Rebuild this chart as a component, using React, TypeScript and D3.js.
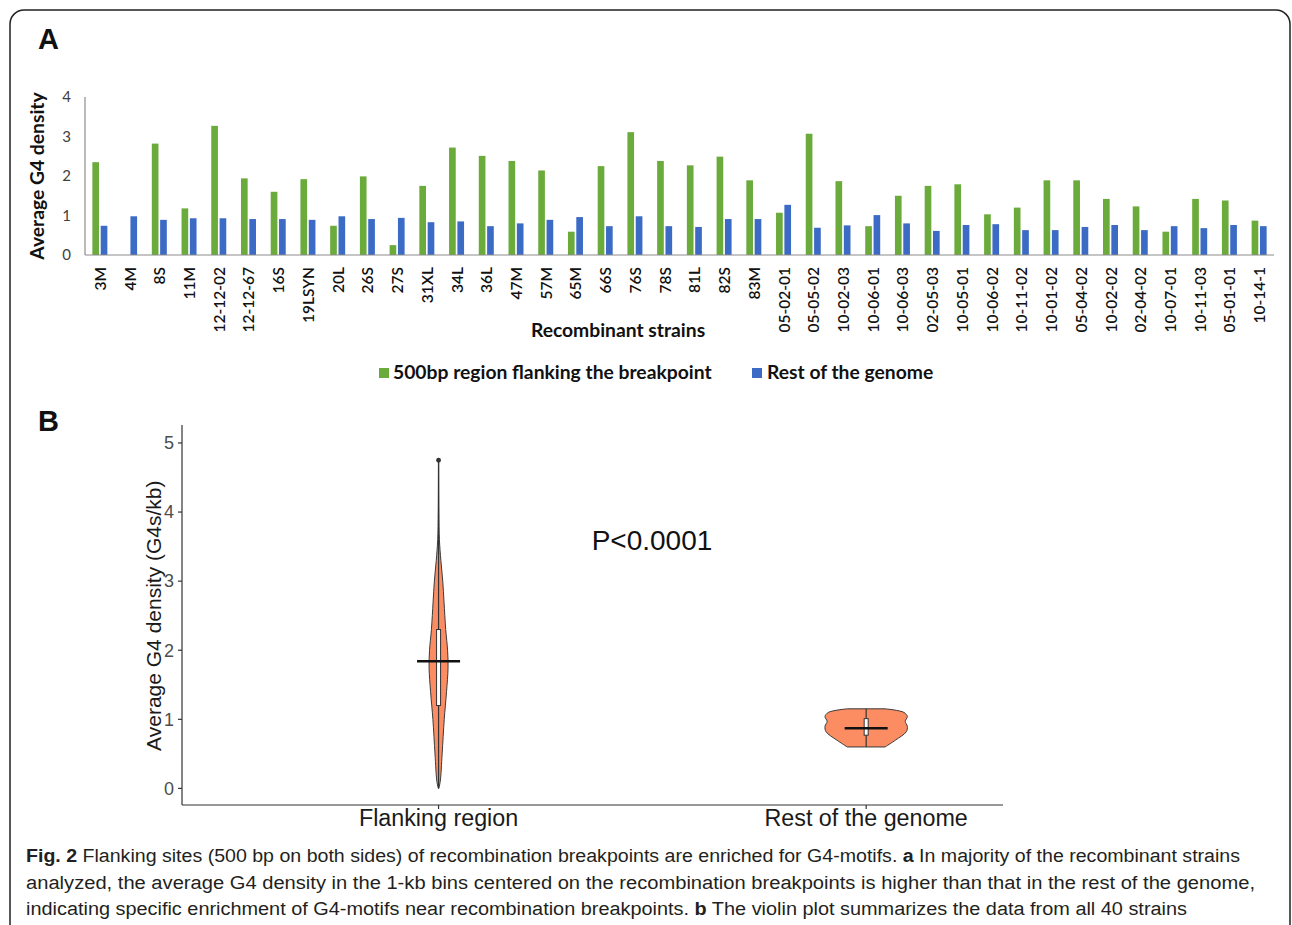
import React from 'react';
import * as d3 from 'd3';

// ---- Panel A data: average G4 density per recombinant strain ----
const strains = [
    '3M', '4M', '8S', '11M', '12-12-02', '12-12-67', '16S', '19LSYN', '20L', '26S',
    '27S', '31XL', '34L', '36L', '47M', '57M', '65M', '66S', '76S', '78S',
    '81L', '82S', '83M', '05-02-01', '05-05-02', '10-02-03', '10-06-01', '10-06-03', '02-05-03', '10-05-01',
    '10-06-02', '10-11-02', '10-01-02', '05-04-02', '10-02-02', '02-04-02', '10-07-01', '10-11-03', '05-01-01', '10-14-1',
];
const flankingDensity = [
    2.35, 0, 2.82, 1.18, 3.27, 1.94, 1.6, 1.92, 0.74, 1.99,
    0.25, 1.75, 2.72, 2.51, 2.38, 2.14, 0.59, 2.25, 3.11, 2.38,
    2.27, 2.49, 1.89, 1.07, 3.07, 1.87, 0.73, 1.5, 1.75, 1.79,
    1.03, 1.2, 1.89, 1.89, 1.42, 1.23, 0.59, 1.42, 1.38, 0.87,
];
const genomeDensity = [
    0.74, 0.98, 0.89, 0.93, 0.93, 0.91, 0.91, 0.89, 0.98, 0.91,
    0.94, 0.83, 0.85, 0.73, 0.8, 0.89, 0.96, 0.73, 0.98, 0.73,
    0.71, 0.91, 0.91, 1.27, 0.69, 0.75, 1.01, 0.8, 0.61, 0.76,
    0.78, 0.63, 0.63, 0.71, 0.76, 0.63, 0.73, 0.68, 0.76, 0.73,
];
const seriesKeys = ['flank', 'rest'];
const seriesNames = ['500bp region flanking the breakpoint', 'Rest of the genome'];
const yTicksA = [0, 1, 2, 3, 4];

// ---- Panel B data: violin outlines (value, relative width) and summary stats ----
const groups = ['Flanking region', 'Rest of the genome'];
const flankProfileValue = [0, 0.1, 0.5, 1.0, 1.4, 1.75, 2.0, 2.3, 2.7, 3.0, 3.3, 3.6, 4.0, 4.75];
const flankProfileWidth = [0.005, 0.04, 0.085, 0.135, 0.19, 0.226, 0.215, 0.17, 0.13, 0.1, 0.055, 0.02, 0.008, 0.003];
const restProfileValue = [0.6, 0.7, 0.82, 0.9, 0.97, 1.04, 1.1, 1.152];
const restProfileWidth = [0.45, 0.7, 0.955, 0.98, 0.93, 0.98, 0.9, 0.45];
const boxLow = [1.2, 0.77];
const boxHigh = [2.3, 1.01];
const whiskerLow = [0, 0.6];
const whiskerHigh = [4.75, 1.152];
const centerLine = [1.84, 0.87];
const outliers = [4.75];
const yTicksB = [0, 1, 2, 3, 4, 5];

const W = 1292;
const H = 925;
const GREEN = '#6aab3b';
const BLUE = '#3c6bc6';
const VIOLIN = '#fc8d62';

export default function App() {
    // Panel A scales
    const xA = d3.scaleBand<string>().domain(strains).range([85, 1274]);
    const xSub = d3.scaleBand<string>()
        .domain(seriesKeys)
        .range([xA.bandwidth() / 2 - 7.5, xA.bandwidth() / 2 + 7.5])
        .paddingInner(0.2);
    const yA = d3.scaleLinear().domain([0, 4]).range([255, 97]);

    // Panel B scales
    const xB = d3.scaleLinear().domain([0.4, 2.32]).range([182, 1003]);
    const yB = d3.scaleLinear().domain([-0.24, 5.26]).range([805, 425]);
    const wB = d3.scaleLinear().domain([0, 1]).range([0, 42]);

    const violinPath = (vals: number[], widths: number[], cx: number) => {
        const pts = vals.map((v, i) => [v, widths[i]] as [number, number]);
        return d3.area<[number, number]>()
            .y(d => yB(d[0]))
            .x0(d => cx - wB(d[1]))
            .x1(d => cx + wB(d[1]))
            .curve(d3.curveCatmullRom.alpha(0.5))(pts) || '';
    };
    const profiles = [
        [flankProfileValue, flankProfileWidth],
        [restProfileValue, restProfileWidth],
    ];

    const fontA = 'Lato, "Open Sans", sans-serif';
    const fontB = '"Liberation Sans", Arial, sans-serif';
    const capFont = '"Liberation Sans Narrow", "Liberation Sans", sans-serif';

    return (
        <div style={{ position: 'absolute', left: 0, top: 0 }}>
            <svg width={W} height={H} viewBox={`0 0 ${W} ${H}`} style={{ display: 'block', background: '#fff' }}>
                {/* frame */}
                <rect x={10} y={10} width={1280} height={960} rx={14} ry={14} fill="none" stroke="#222" strokeWidth={1.5} />

                {/* ---------- Panel A ---------- */}
                <text x={38} y={49} fontFamily={fontB} fontWeight="bold" fontSize={29} fill="#111">A</text>

                <g fontFamily={fontA}>
                    {yTicksA.map(t => (
                        <text key={t} x={71} y={yA(t)} dy="0.35em" textAnchor="end" fontSize={15} fill="#404040">{t}</text>
                    ))}
                    <text transform={`translate(44,${yA(2)}) rotate(-90)`} textAnchor="middle"
                        fontSize={19.3} fontWeight="bold" fill="#111">Average G4 density</text>

                    {strains.map((s, i) => (
                        <g key={s} transform={`translate(${xA(s)},0)`}>
                            {flankingDensity[i] > 0 && (
                                <rect x={xSub('flank')} y={yA(flankingDensity[i])} width={xSub.bandwidth()}
                                    height={yA(0) - yA(flankingDensity[i])} fill={GREEN} />
                            )}
                            <rect x={xSub('rest')} y={yA(genomeDensity[i])} width={xSub.bandwidth()}
                                height={yA(0) - yA(genomeDensity[i])} fill={BLUE} />
                        </g>
                    ))}

                    <line x1={85} x2={85} y1={yA(4)} y2={yA(0)} stroke="#8c8c8c" strokeWidth={1.2} />
                    <line x1={85} x2={1274} y1={yA(0)} y2={yA(0)} stroke="#8c8c8c" strokeWidth={1.2} />

                    {strains.map(s => (
                        <text key={s} transform={`translate(${(xA(s) || 0) + xA.bandwidth() / 2},267) rotate(-90)`}
                            textAnchor="end" dominantBaseline="central" fontSize={15.5} fontWeight={600} fill="#111">{s}</text>
                    ))}

                    <text x={618} y={337} textAnchor="middle" fontSize={19.3} fontWeight="bold" fill="#111">Recombinant strains</text>

                    {/* legend */}
                    <rect x={379} y={368} width={10} height={10} fill={GREEN} />
                    <text x={393} y={379} fontSize={19.3} fontWeight="bold" fill="#111">{seriesNames[0]}</text>
                    <rect x={752} y={368} width={10} height={10} fill={BLUE} />
                    <text x={767} y={379} fontSize={19.3} fontWeight="bold" fill="#111">{seriesNames[1]}</text>
                </g>

                {/* ---------- Panel B ---------- */}
                <text x={38} y={431} fontFamily={fontB} fontWeight="bold" fontSize={29} fill="#111">B</text>

                <g fontFamily={fontB}>
                    {groups.map((g, i) => {
                        const cx = xB(i + 1);
                        return (
                            <g key={g}>
                                <path d={violinPath(profiles[i][0], profiles[i][1], cx)} fill={VIOLIN} stroke="#3a3a3a" strokeWidth={1} />
                                <line x1={cx} x2={cx} y1={yB(whiskerLow[i])} y2={yB(whiskerHigh[i])} stroke="#333" strokeWidth={1.2} />
                                <rect x={cx - 2} y={yB(boxHigh[i])} width={4} height={yB(boxLow[i]) - yB(boxHigh[i])}
                                    fill="#fff" stroke="#333" strokeWidth={1} />
                                <line x1={cx - 21.5} x2={cx + 21.5} y1={yB(centerLine[i])} y2={yB(centerLine[i])} stroke="#111" strokeWidth={2.6} />
                            </g>
                        );
                    })}
                    {outliers.map(o => (
                        <circle key={o} cx={xB(1)} cy={yB(o)} r={2.4} fill="#333" />
                    ))}

                    <text x={652} y={550} textAnchor="middle" fontSize={28} fill="#111">P&lt;0.0001</text>

                    {/* axes */}
                    <line x1={182} x2={182} y1={425} y2={805} stroke="#333" strokeWidth={1.2} />
                    <line x1={182} x2={1003} y1={805} y2={805} stroke="#333" strokeWidth={1.2} />
                    {yTicksB.map(t => (
                        <g key={t}>
                            <line x1={178} x2={182} y1={yB(t)} y2={yB(t)} stroke="#333" strokeWidth={1.2} />
                            <text x={174} y={yB(t)} dy="0.35em" textAnchor="end" fontSize={18} fill="#4d4d4d">{t}</text>
                        </g>
                    ))}
                    {groups.map((g, i) => (
                        <g key={g}>
                            <line x1={xB(i + 1)} x2={xB(i + 1)} y1={805} y2={809} stroke="#333" strokeWidth={1.2} />
                            <text x={xB(i + 1)} y={826} textAnchor="middle" fontSize={23.3} fill="#1a1a1a">{g}</text>
                        </g>
                    ))}
                    <text transform={`translate(161,${yB(2.5)}) rotate(-90)`} textAnchor="middle"
                        fontSize={21} fill="#1a1a1a">Average G4 density (G4s/kb)</text>
                </g>

                {/* ---------- caption ---------- */}
                <g fontFamily={capFont} fontSize={18} fill="#231f20">
                    <text x={26} y={862} textLength={1214} lengthAdjust="spacingAndGlyphs">
                        <tspan fontWeight="bold">Fig. 2</tspan> Flanking sites (500 bp on both sides) of recombination breakpoints are enriched for G4-motifs. <tspan fontWeight="bold">a</tspan> In majority of the recombinant strains
                    </text>
                    <text x={26} y={889} textLength={1229} lengthAdjust="spacingAndGlyphs">
                        analyzed, the average G4 density in the 1-kb bins centered on the recombination breakpoints is higher than that in the rest of the genome,
                    </text>
                    <text x={26} y={915} textLength={1161} lengthAdjust="spacingAndGlyphs">
                        indicating specific enrichment of G4-motifs near recombination breakpoints. <tspan fontWeight="bold">b</tspan> The violin plot summarizes the data from all 40 strains
                    </text>
                </g>
            </svg>
        </div>
    );
}
